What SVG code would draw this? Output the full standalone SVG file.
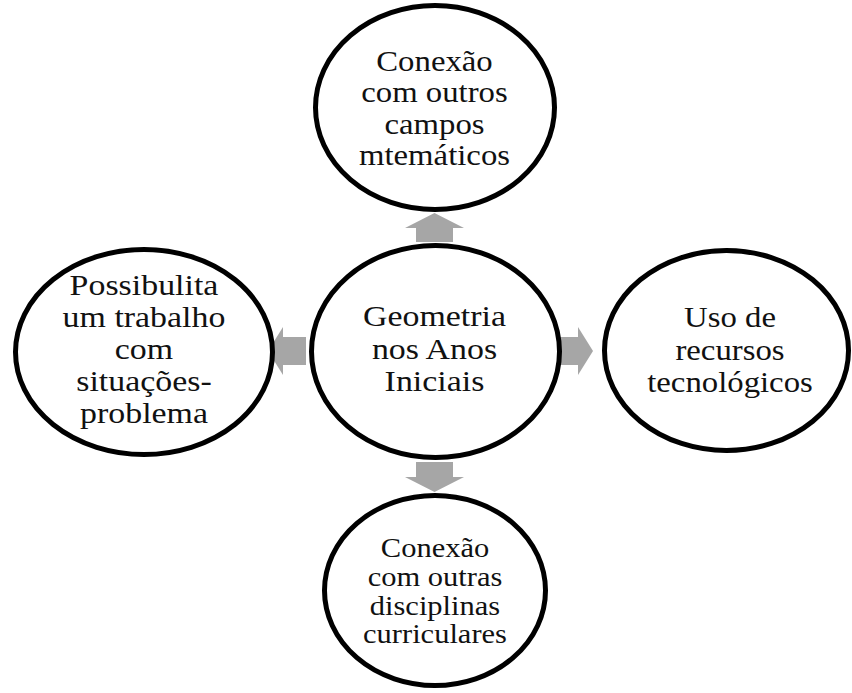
<svg xmlns="http://www.w3.org/2000/svg" width="852" height="693" viewBox="0 0 852 693">
<style>
.node{fill:#fff;stroke:#000;stroke-width:5}
.arr{fill:#a6a6a6;stroke:none}
.lbl{font-family:'Liberation Serif','Times New Roman',Times,serif;fill:#111;text-anchor:middle}
</style>
<rect width="852" height="693" fill="#fff"/>
<g id="connectors">
<polygon class="arr" points="416,242 416,228 405,228 434.5,213 464,228 453,228 453,242"/>
<polygon class="arr" points="416,462 416,477 405,477 434.5,492 464,477 453,477 453,462"/>
<polygon class="arr" points="306,337 283,337 283,327 268,351 283,375 283,365 306,365"/>
<polygon class="arr" points="558,337 578,337 578,327 593,351 578,375 578,365 558,365"/>
</g>
<g id="node-top">
<ellipse class="node" cx="435" cy="107.5" rx="119.5" ry="102"/>
<g class="lbl" transform="translate(434.5 0) scale(1.13 1)" font-family="Liberation Serif, serif" font-size="29">
<text x="0" y="71">Conexão</text>
<text x="0" y="102.5">com outros</text>
<text x="0" y="134">campos</text>
<text x="0" y="165.5">mtemáticos</text>
</g>
</g>
<g id="node-center">
<ellipse class="node" cx="435.5" cy="351.5" rx="124" ry="106"/>
<g class="lbl" transform="translate(434.5 0) scale(1.13 1)" font-family="Liberation Serif, serif" font-size="30">
<text x="0" y="326.5">Geometria</text>
<text x="0" y="359">nos Anos</text>
<text x="0" y="391.5">Iniciais</text>
</g>
</g>
<g id="node-left">
<ellipse class="node" cx="144" cy="352" rx="128.5" ry="102.5"/>
<g class="lbl" transform="translate(144 0) scale(1.13 1)" font-family="Liberation Serif, serif" font-size="30">
<text x="0" y="295">Possibulita</text>
<text x="0" y="327">um trabalho</text>
<text x="0" y="359">com</text>
<text x="0" y="391">situações-</text>
<text x="0" y="423">problema</text>
</g>
</g>
<g id="node-right">
<ellipse class="node" cx="726.5" cy="350.5" rx="122" ry="100"/>
<g class="lbl" transform="translate(730 0) scale(1.13 1)" font-family="Liberation Serif, serif" font-size="29">
<text x="0" y="327">Uso de</text>
<text x="0" y="360">recursos</text>
<text x="0" y="392">tecnológicos</text>
</g>
</g>
<g id="node-bottom">
<ellipse class="node" cx="435" cy="590.5" rx="110.5" ry="95"/>
<g class="lbl" transform="translate(435 0) scale(1.13 1)" font-family="Liberation Serif, serif" font-size="27">
<text x="0" y="557">Conexão</text>
<text x="0" y="586">com outras</text>
<text x="0" y="615">disciplinas</text>
<text x="0" y="643">curriculares</text>
</g>
</g>
</svg>
